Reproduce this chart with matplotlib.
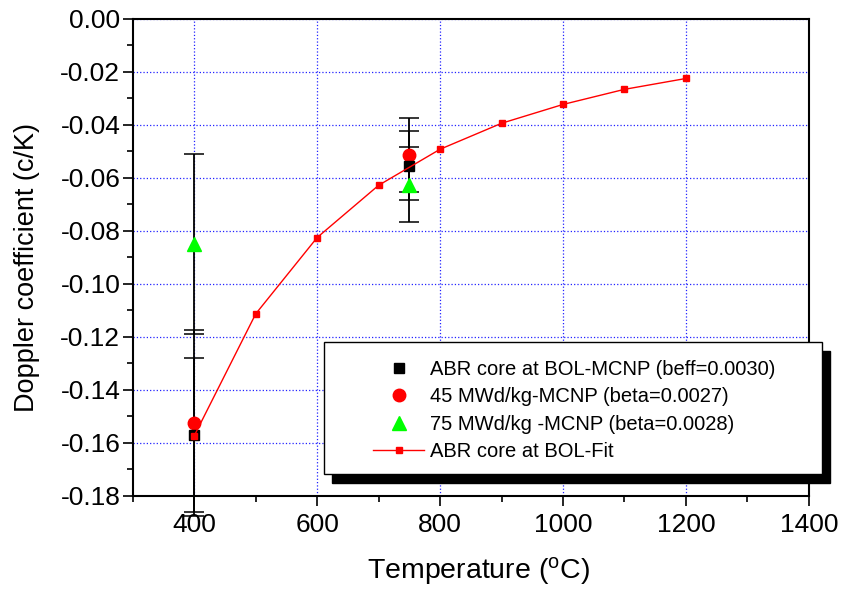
"""
Doppler coefficient vs fuel temperature for the ABR core.
MCNP results at 400 and 750 C with error bars, plus the BOL fit curve.

Output: out.png
"""
import matplotlib
matplotlib.use("Agg")
import matplotlib.pyplot as plt
import matplotlib.patches as mpatches
from matplotlib.ticker import MultipleLocator

# ── Data ────────────────────────────────────────────────────────────────────

TEMP_MCNP = [400, 750]

BOL_MCNP = [-0.157, -0.0555]
BOL_MCNP_ERR = [0.029, 0.013]

BU45_MCNP = [-0.1525, -0.0513]
BU45_MCNP_ERR = [0.035, 0.014]

BU75_MCNP = [-0.085, -0.0625]
BU75_MCNP_ERR = [0.034, 0.014]

TEMP_FIT = [400, 500, 600, 700, 800, 900, 1000, 1100, 1200]
BOL_FIT = [-0.1573, -0.1113, -0.0825, -0.0628, -0.0492, -0.0394,
           -0.0323, -0.0266, -0.0225]

LABELS = [
    "ABR core at BOL-MCNP (beff=0.0030)",
    "45 MWd/kg-MCNP (beta=0.0027)",
    "75 MWd/kg -MCNP (beta=0.0028)",
    "ABR core at BOL-Fit",
]

X_TICKS = [400, 600, 800, 1000, 1200, 1400]
Y_TICKS = [0.00, -0.02, -0.04, -0.06, -0.08, -0.10, -0.12, -0.14, -0.16, -0.18]

plt.rcParams["font.family"] = ["Liberation Sans", "DejaVu Sans"]
plt.rcParams["mathtext.default"] = "regular"


def main():
    fig = plt.figure(figsize=(8.46, 5.89), dpi=100)
    ax = fig.add_axes([0.157, 0.158, 0.799, 0.81])

    # error bars first, markers on top
    err_kw = dict(fmt="none", ecolor="black", elinewidth=1.3, capsize=7,
                  capthick=1.1, clip_on=False, zorder=3)
    ax.errorbar(TEMP_MCNP, BOL_MCNP, yerr=BOL_MCNP_ERR, **err_kw)
    ax.errorbar(TEMP_MCNP, BU45_MCNP, yerr=BU45_MCNP_ERR, **err_kw)
    ax.errorbar(TEMP_MCNP, BU75_MCNP, yerr=BU75_MCNP_ERR, **err_kw)

    ax.plot(TEMP_MCNP, BU45_MCNP, "o", color="red", ms=9, mec="red",
            ls="none", label=LABELS[1], zorder=4)
    ax.plot(TEMP_MCNP, BU75_MCNP, "^", color="#00ff00", ms=10, mec="#00ff00",
            ls="none", label=LABELS[2], zorder=4)
    ax.plot(TEMP_MCNP, BOL_MCNP, "s", color="black", ms=7.5, mec="black",
            ls="none", label=LABELS[0], zorder=4)
    ax.plot(TEMP_FIT, BOL_FIT, "-s", color="red", lw=1.0, ms=4.5,
            label=LABELS[3], zorder=5)

    # axes, ticks, grid
    ax.set_xlim(300, 1400)
    ax.set_ylim(-0.18, 0.0)
    ax.set_xticks(X_TICKS)
    ax.set_yticks(Y_TICKS)
    ax.xaxis.set_minor_locator(MultipleLocator(100))
    ax.yaxis.set_minor_locator(MultipleLocator(0.01))
    ax.yaxis.set_major_formatter(plt.FormatStrFormatter("%.2f"))
    ax.tick_params(which="major", direction="out", length=7, width=1.2,
                   labelsize=19)
    ax.tick_params(axis="y", which="major", pad=2)
    ax.tick_params(axis="x", which="major", pad=5)
    ax.tick_params(which="minor", direction="out", length=4.5, width=1.2)
    ax.grid(True, which="major", color="#2222ff", ls=":", lw=0.9)
    ax.set_axisbelow(True)
    for sp in ax.spines.values():
        sp.set_linewidth(1.5)

    ax.set_xlabel("Temperature ($^{o}$C)", fontsize=20.5)
    ax.set_ylabel("Doppler coefficient (c/K)", fontsize=19.5)
    ax.xaxis.set_label_coords(0.512, -0.124)
    ax.yaxis.set_label_coords(-0.138, 0.478)

    # legend box with solid black drop shadow
    bx, by, bw, bh = 0.2825, 0.046, 0.7365, 0.277
    shadow = mpatches.Rectangle((bx + 0.012, by - 0.019), bw, bh,
                                transform=ax.transAxes, facecolor="black",
                                edgecolor="black", clip_on=False, zorder=6)
    frame = mpatches.Rectangle((bx, by), bw, bh, transform=ax.transAxes,
                               facecolor="white", edgecolor="black", lw=1.0,
                               clip_on=False, zorder=7)
    ax.add_patch(shadow)
    ax.add_patch(frame)

    handles, labels = ax.get_legend_handles_labels()
    order = [2, 0, 1, 3]
    leg = ax.legend([handles[i] for i in order], [labels[i] for i in order],
                    loc="upper left", bbox_to_anchor=(0.356, 0.284),
                    frameon=False, fontsize=14.5, borderpad=0, borderaxespad=0,
                    handlelength=2.5, handletextpad=0.3, labelspacing=0.4,
                    numpoints=1)
    leg.set_zorder(8)

    fig.savefig("out.png", dpi=100)


if __name__ == "__main__":
    main()
